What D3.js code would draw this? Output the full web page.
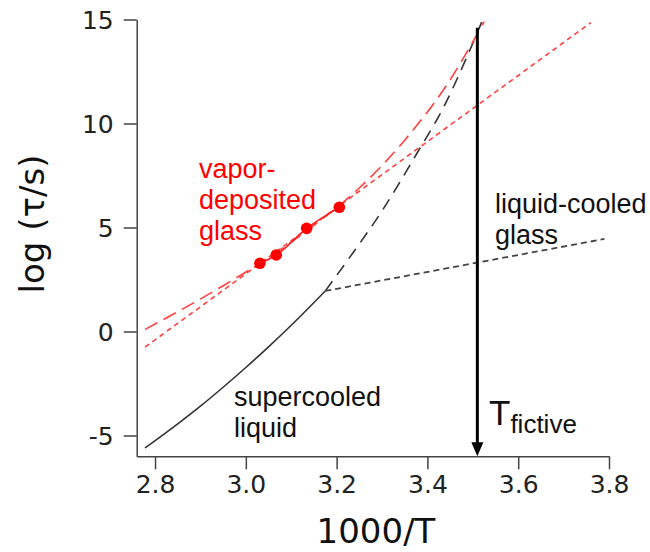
<!DOCTYPE html>
<html>
<head>
<meta charset="utf-8">
<script src="https://cdn.jsdelivr.net/npm/d3@7"></script>
<style>
  body { margin: 0; background: #fff; }
  .tick text { font-family: "DejaVu Sans", sans-serif; }
  .note { font-family: "Liberation Sans", Arial, sans-serif; }
</style>
</head>
<body>
<div id="chart"></div>
<script>
// Values (x = 1000/T, y = log(tau/s))
const liquidX = [2.778, 2.85, 2.9, 2.95, 3.0, 3.05, 3.1, 3.175];
const liquidY = [-5.6, -4.44, -3.59, -2.68, -1.73, -0.74, 0.3, 1.95];

const extrapX = [3.175, 3.23, 3.3, 3.377, 3.436, 3.487, 3.522];
const extrapY = [1.95, 3.6, 5.8, 8.57, 10.8, 13.2, 15.0];

const glassX = [3.175, 3.79];
const glassY = [1.95, 4.45];

const vdCurveX = [2.778, 2.85, 2.95, 3.05, 3.15, 3.25, 3.35, 3.45, 3.525];
const vdCurveY = [0.1, 0.95, 2.2, 3.55, 5.1, 6.9, 9.2, 12.1, 14.9];

const vdLineX = [2.778, 3.76];
const vdLineY = [-0.75, 14.85];

const pointsX = [3.031, 3.067, 3.134, 3.206];
const pointsY = [3.28, 3.68, 4.96, 5.97];

const fictiveX = 3.51;
const arrowTopY = 14.6;

const xTicks = [2.8, 3.0, 3.2, 3.4, 3.6, 3.8];
const yTicks = [-5, 0, 5, 10, 15];

const width = 650;
const height = 552;

const svg = d3
  .select("#chart")
  .append("svg")
  .attr("width", width)
  .attr("height", height);

// Scales
const x = d3.scaleLinear().domain([2.7596, 3.8]).range([136.7, 609]);
const y = d3.scaleLinear().domain([-6, 15]).range([456.3, 19.5]);

// Axes
const xAxis = svg
  .append("g")
  .attr("transform", `translate(0, ${y(-6)})`)
  .call(
    d3.axisBottom(x).tickValues(xTicks).tickFormat(d3.format(".1f"))
      .tickSize(13).tickSizeOuter(0).tickPadding(6)
  );
const yAxis = svg
  .append("g")
  .attr("transform", `translate(${x(2.7596)}, 0)`)
  .call(
    d3.axisLeft(y).tickValues(yTicks).tickFormat((d) => String(d))
      .tickSize(13).tickSizeOuter(0).tickPadding(10)
  );
[xAxis, yAxis].forEach((a) => {
  a.select(".domain").attr("stroke", "#444").attr("stroke-width", 1.5);
  a.selectAll(".tick line").attr("stroke", "#444").attr("stroke-width", 1.5);
  a.selectAll(".tick text").attr("fill", "#222").style("font-size", "25px");
});
yAxis.selectAll(".tick text").attr("dy", "0.36em");

// Axis titles
svg
  .append("text")
  .attr("x", 376)
  .attr("y", 543)
  .attr("text-anchor", "middle")
  .style("font-family", "DejaVu Sans, sans-serif")
  .style("font-size", "34px")
  .attr("fill", "#111")
  .text("1000/T");
svg
  .append("text")
  .attr("transform", "translate(44, 224) rotate(-90)")
  .attr("text-anchor", "middle")
  .style("font-family", "DejaVu Sans, sans-serif")
  .style("font-size", "34px")
  .attr("fill", "#111")
  .text("log (τ/s)");

const line = d3
  .line()
  .x((d) => x(d[0]))
  .y((d) => y(d[1]))
  .curve(d3.curveMonotoneX);
const zip = (xs, ys) => xs.map((v, i) => [v, ys[i]]);

// Supercooled liquid and its extrapolation
svg.append("path")
  .attr("d", line(zip(liquidX, liquidY)))
  .attr("fill", "none").attr("stroke", "#333").attr("stroke-width", 1.6);
svg.append("path")
  .attr("d", line(zip(extrapX, extrapY)))
  .attr("fill", "none").attr("stroke", "#333").attr("stroke-width", 1.6)
  .attr("stroke-dasharray", "12,8");
// Liquid-cooled glass
svg.append("path")
  .attr("d", line(zip(glassX, glassY)))
  .attr("fill", "none").attr("stroke", "#444").attr("stroke-width", 1.8)
  .attr("stroke-dasharray", "6,4");

// Vapor-deposited glass fits
svg.append("path")
  .attr("d", line(zip(vdCurveX, vdCurveY)))
  .attr("fill", "none").attr("stroke", "#ff4040").attr("stroke-width", 1.6)
  .attr("stroke-dasharray", "14,7");
svg.append("path")
  .attr("d", line(zip(vdLineX, vdLineY)))
  .attr("fill", "none").attr("stroke", "#ff4040").attr("stroke-width", 1.6)
  .attr("stroke-dasharray", "5,4");
svg.append("path")
  .attr("d", line(zip(pointsX, pointsY)))
  .attr("fill", "none").attr("stroke", "#ff2020").attr("stroke-width", 1.6);
svg.selectAll(".pt")
  .data(zip(pointsX, pointsY))
  .enter()
  .append("circle")
  .attr("class", "pt")
  .attr("cx", (d) => x(d[0]))
  .attr("cy", (d) => y(d[1]))
  .attr("r", 5.8)
  .attr("fill", "#ff0000");

// T fictive arrow
svg.append("line")
  .attr("x1", x(fictiveX)).attr("x2", x(fictiveX))
  .attr("y1", y(arrowTopY)).attr("y2", y(-6) - 12)
  .attr("stroke", "#000").attr("stroke-width", 3);
svg.append("path")
  .attr("d", `M${x(fictiveX) - 6},${y(-6) - 14} L${x(fictiveX) + 6},${y(-6) - 14} L${x(fictiveX)},${y(-6)} Z`)
  .attr("fill", "#000");

// Annotations
const note = (lines, px, py, color) => {
  const t = svg.append("text")
    .attr("class", "note")
    .attr("fill", color)
    .style("font-size", "27px");
  lines.forEach((s, i) => {
    t.append("tspan").attr("x", px).attr("y", py + i * 31).text(s);
  });
};
note(["vapor-", "deposited", "glass"], 199, 178, "#ff0000");
note(["liquid-cooled", "glass"], 495, 213, "#111");
note(["supercooled", "liquid"], 234, 406, "#111");

const tf = svg.append("text").attr("class", "note").attr("fill", "#111")
  .attr("x", 489).attr("y", 425);
tf.append("tspan").style("font-size", "35px").text("T");
tf.append("tspan").style("font-size", "26px").attr("dy", 8).text("fictive");
</script>
</body>
</html>
